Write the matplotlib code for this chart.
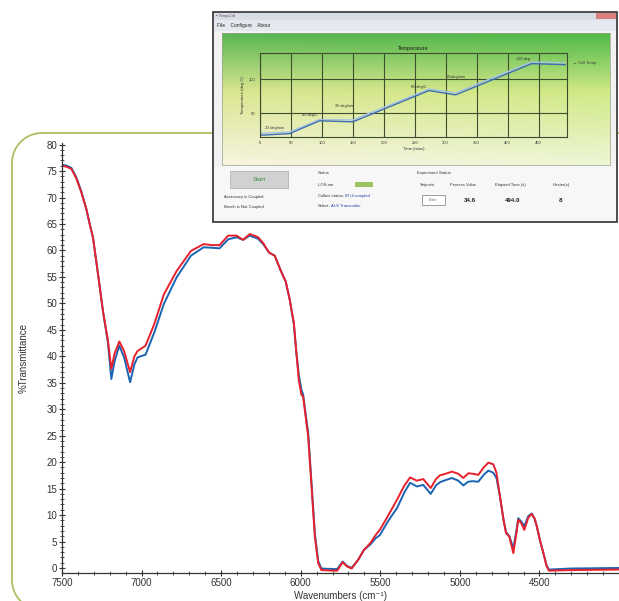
import numpy as np
import matplotlib
matplotlib.use("Agg")
import matplotlib.pyplot as plt
from matplotlib.patches import Rectangle
from matplotlib.ticker import MultipleLocator

plt.rcParams["font.family"] = ["Liberation Sans", "DejaVu Sans"]

W, H = 619, 601

#  SPECTRUM DATA  (wavenumber cm-1, %T)
wavenumbers = [7500, 7470, 7441, 7410, 7379, 7347, 7326, 7305, 7274, 7243,
               7211, 7190, 7170, 7140, 7110, 7072, 7045, 7025, 6975, 6920,
               6860, 6780, 6690, 6610, 6560, 6510, 6456, 6404, 6362, 6320,
               6268, 6236, 6199, 6163, 6127, 6094, 6069, 6043, 6027, 6012,
               5995, 5985, 5953, 5932, 5911, 5890, 5870, 5800, 5770, 5737,
               5710, 5680, 5640, 5603, 5560, 5530, 5503, 5460, 5430, 5395,
               5350, 5313, 5270, 5230, 5183, 5150, 5125, 5090, 5050, 5010,
               4978, 4947, 4920, 4884, 4850, 4821, 4790, 4770, 4748, 4725,
               4710, 4689, 4664, 4645, 4633, 4615, 4595, 4570, 4548, 4530,
               4516, 4495, 4475, 4455, 4440, 4300, 4000]

red_T = [76.0, 75.8, 75.4, 73.6, 71.0, 67.8, 65.0, 62.4, 55.6, 48.6,
         42.9, 37.6, 40.5, 42.8, 41.0, 37.0, 40.0, 41.0, 42.0, 46.1,
         51.7, 56.1, 59.9, 61.2, 61.0, 61.0, 62.8, 62.8, 62.0, 63.1,
         62.5, 61.4, 59.6, 59.0, 56.3, 54.1, 50.7, 46.3, 40.6, 35.5,
         32.7, 32.4, 24.8, 15.4, 5.9, 0.9, -0.4, -0.5, -0.5, 1.1,
         0.3, -0.1, 1.5, 3.4, 4.8, 6.2, 7.2, 9.4, 11.0, 12.9,
         15.5, 17.1, 16.5, 16.8, 15.1, 16.8, 17.5, 17.8, 18.2, 17.8,
         17.0, 17.9, 17.8, 17.6, 19.0, 19.9, 19.6, 18.0, 13.5, 9.0,
         6.6, 5.9, 2.8, 6.5, 9.1, 8.5, 7.2, 9.5, 10.2, 9.3,
         7.8, 5.0, 2.8, 0.3, -0.5, -0.4, -0.3]

blue_T = [76.2, 76.0, 75.6, 73.8, 71.2, 67.8, 65.0, 62.4, 55.6, 48.6,
          42.5, 35.7, 39.0, 42.0, 39.8, 35.1, 38.5, 39.8, 40.3, 44.5,
          49.9, 54.9, 59.0, 60.6, 60.5, 60.4, 62.1, 62.5, 62.0, 62.8,
          62.2, 61.2, 59.6, 59.0, 56.3, 54.1, 50.7, 46.0, 40.5, 36.5,
          33.6, 32.8, 25.5, 16.0, 6.5, 1.3, -0.1, -0.2, -0.2, 1.2,
          0.4, 0.0, 1.5, 3.4, 4.5, 5.6, 6.2, 8.4, 9.8, 11.3,
          14.2, 16.1, 15.4, 15.7, 14.0, 15.6, 16.2, 16.6, 17.0, 16.5,
          15.6, 16.3, 16.4, 16.3, 17.6, 18.4, 18.0, 17.0, 13.5, 9.0,
          6.8, 6.0, 3.7, 7.0, 9.4, 8.8, 7.9, 9.8, 10.3, 9.3,
          7.8, 5.0, 2.8, 0.5, -0.3, -0.1, 0.0]

#  INSET (software screenshot) DATA
inset_time     = [0, 48, 96, 150, 273, 316, 439, 493]
inset_temp     = [18.1, 20.6, 39.2, 37.7, 83.3, 77.0, 122.5, 121.0]
inset_setpoint = [21.0, 23.0, 41.0, 40.5, 85.5, 80.0, 125.0, 124.0]
inset_xticks   = [0, 50, 100, 150, 200, 250, 300, 350, 400, 450]
inset_yticks   = [50, 100]
inset_notes    = [(24, 29, "23 deg/min"), (80, 47.5, "45 deg/C"),
                  (136, 60.8, "35 deg/min"), (257, 88, "85 deg/C"),
                  (318, 103, "0.5deg/min"), (425, 129, "120 deg")]


def px_axes(x0, y0, x1, y1, **kw):
    """axes placed by image pixel box (top-left origin)"""
    return fig.add_axes([x0 / W, 1 - y1 / H, (x1 - x0) / W, (y1 - y0) / H], **kw)


fig = plt.figure(figsize=(W / 100, H / 100), dpi=100)

# background: rounded green frame (left, top, bottom edges; right side hidden)
bg = px_axes(0, 0, W, H, zorder=0)
bg.set_xlim(0, W); bg.set_ylim(H, 0); bg.axis("off")
R, X0, Y0, Y1 = 30, 12, 133, 610
a1 = np.linspace(np.pi, 1.5 * np.pi, 30)
a2 = np.linspace(0.5 * np.pi, np.pi, 30)
fx = np.concatenate([[X0 + R + 700], X0 + R + R * np.cos(a1[::-1]),
                     X0 + R + R * np.cos(a2[::-1]), [X0 + R + 700]])
fy = np.concatenate([[Y0], Y0 + R + R * np.sin(a1[::-1]),
                     Y1 - R + R * np.sin(a2[::-1]), [Y1]])
bg.plot(fx, fy, color="#a8c060", lw=1.3, solid_capstyle="butt")

#  MAIN SPECTRUM
ax = px_axes(62, 143, 619, 573, zorder=1)
ax.set_facecolor("none")
ax.plot(wavenumbers, blue_T, color="#1a64b4", lw=1.4)
ax.plot(wavenumbers, red_T, color="#e8202c", lw=1.4)
ax.set_xlim(7500, 4000)
ax.set_ylim(-0.95, 80.3)
ax.xaxis.set_minor_locator(MultipleLocator(100))
ax.yaxis.set_major_locator(MultipleLocator(5))
ax.yaxis.set_minor_locator(MultipleLocator(1))
ax.set_xticks([7500, 7000, 6500, 6000, 5500, 5000, 4500])
for s in ("top", "right"):
    ax.spines[s].set_visible(False)
for s in ("left", "bottom"):
    ax.spines[s].set_color("#333333")
    ax.spines[s].set_linewidth(0.9)
ax.tick_params(which="major", direction="inout", length=5, width=0.8,
               colors="#333333", labelsize=7, pad=1)
ax.tick_params(which="minor", direction="inout", length=3, width=0.6,
               colors="#333333")
ax.set_xlabel("Wavenumbers (cm\u207b\u00b9)", fontsize=7, color="#333333", labelpad=2)
ax.set_ylabel("%Transmittance", fontsize=7, color="#333333", labelpad=13)

#  INSET WINDOW
win = px_axes(212, 10, 619, 224, zorder=2)
win.set_xlim(212, 619); win.set_ylim(224, 10); win.axis("off")
win.add_patch(Rectangle((213, 12), 404, 210, fc="#f2f2f2", ec="#303030", lw=1.2))
win.add_patch(Rectangle((214, 13), 402, 7, fc="#d9dde6", ec="none"))
win.add_patch(Rectangle((596, 13), 20, 6, fc="#d88080", ec="none"))
win.add_patch(Rectangle((214, 20), 402, 11, fc="#e6e8f0", ec="none"))
win.text(216, 16.5, "\u25aa TempCtrl", fontsize=3, color="#555555", va="center")
win.text(217, 26, "File    Configure    About", fontsize=3.5, color="#222222", va="center")

# green gradient panel
gy = np.linspace(0, 1, 100)[:, None]
gx = np.linspace(0, 1, 200)[None, :]
top = np.array([0.33, 0.72, 0.30])
mid = np.array([0.84, 0.91, 0.55])
bot = np.array([0.95, 0.96, 0.86])
t = gy + 0 * gx
img = np.where(t[..., None] < 0.45,
               top + (mid - top) * (t[..., None] / 0.45),
               mid + (bot - mid) * ((t[..., None] - 0.45) / 0.55))
img = img + 0.04 * (gx[..., None] - 0.5) * np.array([-1, 0.3, -1])
win.imshow(np.clip(img, 0, 1), extent=(222, 610, 165, 33), aspect="auto", zorder=1)
win.add_patch(Rectangle((222, 33), 388, 132, fc="none", ec="#9aa08a", lw=0.5, zorder=2))
win.add_patch(Rectangle((214, 166), 402, 55, fc="#f7f7f7", ec="none"))

# start button + status texts
win.add_patch(Rectangle((230, 171), 58, 17, fc="#cfd2d0", ec="#a8aaa8", lw=0.5))
win.text(259, 179.5, "Start", fontsize=4.5, color="#3d8a3d", ha="center", va="center")
win.text(224, 197, "Accessory is Coupled", fontsize=3, color="#333333", va="center")
win.text(224, 207, "Bench is Not Coupled", fontsize=3, color="#333333", va="center")
win.text(318, 173, "Status", fontsize=3, color="#333333", va="center")
win.text(318, 184.5, "LOS are", fontsize=3, color="#333333", va="center")
win.add_patch(Rectangle((355, 182), 18, 5, fc="#9cc264", ec="none"))
win.text(318, 196, "Collect status:", fontsize=3, color="#333333", va="center")
win.text(345, 196, "IR Uncoupled", fontsize=3, color="#2244aa", va="center")
win.text(318, 206, "Select:", fontsize=3, color="#333333", va="center")
win.text(331, 206, "ALS Transmitter", fontsize=3, color="#2244aa", va="center")
win.text(417, 173, "Experiment Status", fontsize=3, color="#333333", va="center")
for cx, lab in [(427, "Setpoint"), (463, "Process Value"),
                (510, "Elapsed Time (s)"), (561, "Heater(s)")]:
    win.text(cx, 185, lab, fontsize=3, color="#333333", ha="center", va="center")
win.add_patch(Rectangle((422, 195), 23, 10, fc="white", ec="#777777", lw=0.5))
win.text(433.5, 200, "Enter", fontsize=2.5, color="#666666", ha="center", va="center")
for cx, val in [(470, "34.6"), (513, "494.0"), (561, "8")]:
    win.text(cx, 200, val, fontsize=4.5, color="#222222", ha="center", va="center",
             fontweight="bold")

# inner temperature chart
ic = px_axes(260, 53, 567, 137, zorder=3)
ic.set_facecolor("none")
ic.set_xlim(0, 496); ic.set_ylim(15.6, 138)
for s in ic.spines.values():
    s.set_color("#3c4c2c"); s.set_linewidth(0.8)
ic.set_xticks(inset_xticks)
ic.set_yticks(inset_yticks)
ic.grid(True, color="#3e4e2e", lw=0.8)
ic.tick_params(length=0, labelsize=3, colors="#333333", pad=3)
ic.plot(inset_time, inset_setpoint, color="#a8c4e4", lw=1.0)
ic.plot(inset_time, inset_temp, color="#3d6fb0", lw=1.0)
for tx, ty, note in inset_notes:
    ic.text(tx, ty, note, fontsize=2.8, color="#333333", ha="center", va="center")
ic.set_title("Temperature", fontsize=4, color="#222222", pad=2)
ic.set_xlabel("Time (mins)", fontsize=3, color="#333333", labelpad=1)
ic.set_ylabel("Temperature (deg C)", fontsize=3, color="#333333", labelpad=3)
ic.text(505, 123.5, "\u2190 Cell Temp", fontsize=3, color="#333333", va="center",
        clip_on=False)

fig.savefig("out.png", dpi=100)
